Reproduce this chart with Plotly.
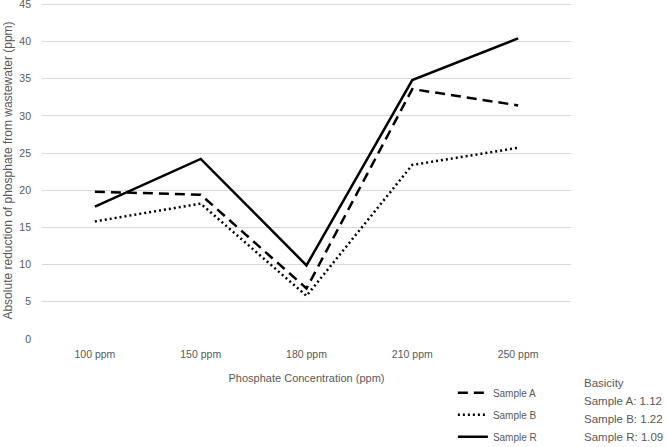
import plotly.graph_objects as go

concentrations = ["100 ppm", "150 ppm", "180 ppm", "210 ppm", "250 ppm"]
sample_a = [19.8, 19.4, 6.8, 33.6, 31.4]
sample_b = [15.8, 18.2, 5.8, 23.4, 25.7]
sample_r = [17.8, 24.2, 9.9, 34.8, 40.4]
basicity_lines = ["Basicity", "Sample A: 1.12", "Sample B: 1.22", "Sample R: 1.09"]

grey = "#595959"
font = "Liberation Sans, Arial, sans-serif"

fig = go.Figure()
fig.add_trace(go.Scatter(x=concentrations, y=sample_a, mode="lines", name="Sample A",
                         legendgroup="a",
                         line=dict(color="black", width=2.5, dash="10px,6px")))
fig.add_trace(go.Scatter(x=concentrations, y=sample_b, mode="lines", name="Sample B",
                         legendgroup="b",
                         line=dict(color="black", width=2.5, dash="2px,3px")))
fig.add_trace(go.Scatter(x=concentrations, y=sample_r, mode="lines", name="Sample R",
                         legendgroup="r",
                         line=dict(color="black", width=2.5)))

# basicity note, one annotation per line to get the wider line spacing
for i, line in enumerate(basicity_lines):
    fig.add_annotation(text=line, xref="paper", yref="paper", x=1.02, y=-0.13 - i * 0.054,
                       xanchor="left", yanchor="middle", align="left", showarrow=False,
                       font=dict(size=11.5, color=grey, family=font))

fig.update_layout(
    width=666, height=447,
    margin=dict(l=42, r=95, t=2, b=108, autoexpand=False),
    plot_bgcolor="white", paper_bgcolor="white",
    font=dict(family=font, size=10, color=grey),
    xaxis=dict(range=[-0.5, 4.5], showgrid=False, showline=False, ticks="", ticklabelstandoff=7,
               tickfont=dict(size=10.5),
               title=dict(text="Phosphate Concentration (ppm)", font=dict(size=11), standoff=15)),
    yaxis=dict(range=[0, 45.3], tickvals=list(range(0, 50, 5)), gridcolor="#d9d9d9",
               gridwidth=1, zeroline=False, showline=False, ticks="", ticklabelstandoff=10,
               ticklabeloverflow="allow", tickfont=dict(size=10.5),
               title=dict(text="Absolute reduction of phosphate from wastewater (ppm)",
                          font=dict(size=12), standoff=4)),
    showlegend=True,
    legend=dict(xref="container", yref="container", x=0.68, y=0.154,
                xanchor="left", yanchor="top", font=dict(size=10, color=grey),
                tracegroupgap=3, bgcolor="rgba(0,0,0,0)"),
)

fig.write_html("out.html", config={"displayModeBar": False},
               post_script="document.body.style.margin='0';")
